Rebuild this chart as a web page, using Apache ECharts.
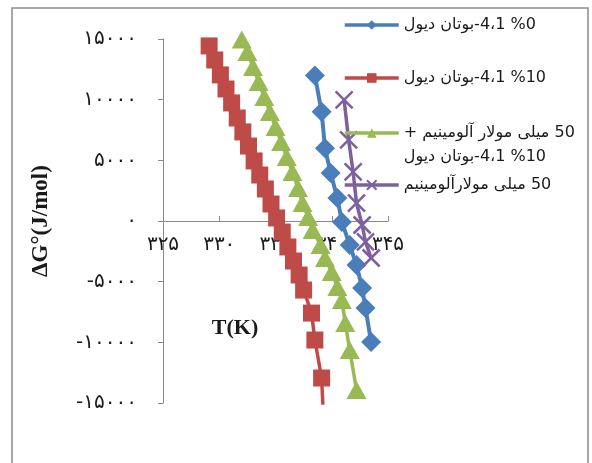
<!DOCTYPE html>
<html><head><meta charset="utf-8">
<script src="https://cdn.jsdelivr.net/npm/echarts@6/dist/echarts.min.js"></script>
<style>html,body{margin:0;padding:0;background:#fff}#c{width:592px;height:463px}</style>
</head><body><div id="c"></div>
<script>
const seriesNames = ['%0 4،1-بوتان دیول', '%10 4،1-بوتان دیول', '50 میلی مولار آلومینیم +\n%10 4،1-بوتان دیول', '50 میلی مولارآلومینیم'];
const blueT = [338.5, 339.1, 339.4, 339.9, 340.5, 340.9, 341.6, 342.2, 342.7, 343.0, 343.5];
const blueG = [12000, 9000, 6000, 3950, 1900, -80, -1980, -3630, -5520, -7170, -9980];
const redT = [329.1, 329.6, 330.1, 330.6, 331.1, 331.6, 332.1, 332.6, 333.1, 333.6, 334.1, 334.6, 335.1, 335.6, 336.1, 336.6, 337.1, 337.5, 338.2, 338.5, 339.1, 339.3];
const redG = [14430, 13270, 12040, 10880, 9730, 8490, 7340, 6180, 4950, 3790, 2640, 1400, 250, -910, -2140, -3300, -4450, -5690, -7590, -9810, -12940, -16900];
const greenT = [332.0, 332.5, 333.0, 333.5, 334.0, 334.5, 335.0, 335.5, 336.0, 336.5, 337.0, 337.4, 337.9, 338.3, 339.0, 339.4, 340.0, 340.5, 340.9, 341.2, 341.6, 342.2];
const greenG = [14950, 13930, 12700, 11460, 10220, 8990, 7750, 6510, 5280, 4040, 2720, 1480, 330, -740, -1980, -3050, -4200, -5440, -6510, -8410, -10640, -13930];
const purpleT = [341.1, 341.5, 341.9, 342.2, 342.7, 343.0, 343.5];
const purpleG = [9980, 6680, 4040, 1480, -330, -1730, -3050];
const xTickValues = [325, 330, 335, 340, 345];
const xTickLabels = ['۳۲۵', '۳۳۰', '۳۳۵', '۳۴۰', '۳۴۵'];
const yTickValues = [-15000, -10000, -5000, 0, 5000, 10000, 15000];
const yTickLabels = ['-۱۵۰۰۰', '-۱۰۰۰۰', '-۵۰۰۰', '۰', '۵۰۰۰', '۱۰۰۰۰', '۱۵۰۰۰'];

const pair = (t, g) => t.map((v, i) => [v, g[i]]);
const rtl = s => '\u202B' + s + '\u202C';
const colors = ['#4a7ebb', '#be4b48', '#98b954', '#7d60a0'];
const xPath = 'path://M0,0 L10,10 M10,0 L0,10';
const legendFont = { fontSize: 16, color: '#1a1a1a', fontFamily: 'DejaVu Sans' };

function legendAt(i, top, extra) {
  return Object.assign({
    data: [seriesNames[i]], left: 343, top: top, orient: 'vertical', padding: 0,
    itemWidth: 54, itemHeight: 12, itemGap: 0, selectedMode: false,
    lineStyle: { width: 3.5 },
    formatter: n => rtl(n),
    textStyle: legendFont
  }, extra || {});
}

const chart = echarts.init(document.getElementById('c'), null, { renderer: 'canvas' });
chart.setOption({
  backgroundColor: '#fff',
  animation: false,
  graphic: [{ type: 'rect', silent: true, z: -10, shape: { x: 12, y: 8, width: 576, height: 470 },
    style: { fill: 'none', stroke: '#8a8a8a', lineWidth: 1.5 } }],
  grid: { left: 163, top: 39, width: 225, height: 364, outerBoundsMode: 'none' },
  legend: [
    legendAt(0, 17),
    legendAt(1, 70),
    legendAt(2, 97, {
      formatter: n => '\n' + n.split('\n').map(rtl).join('\n'),
      textStyle: Object.assign({}, legendFont, { lineHeight: 24 })
    }),
    legendAt(3, 177)
  ],
  xAxis: {
    type: 'value', min: 325, max: 345, interval: 5, position: 'bottom', offset: -182,
    name: 'T(K)', nameLocation: 'middle', nameGap: 96,
    nameTextStyle: { fontFamily: 'Liberation Serif', fontWeight: 'bold', fontSize: 22, color: '#1a1a1a', padding: [0, 81, 0, 0] },
    axisLine: { onZero: false, lineStyle: { color: '#8a8a8a', width: 1 } },
    axisTick: { inside: true, length: 5, lineStyle: { color: '#8a8a8a' } },
    splitLine: { show: false },
    axisLabel: { margin: 14, fontSize: 20, color: '#1a1a1a', fontFamily: 'DejaVu Sans',
      formatter: v => { const i = xTickValues.indexOf(v); return i >= 0 ? xTickLabels[i] : ''; } }
  },
  yAxis: {
    type: 'value', min: -15000, max: 15000, interval: 5000,
    name: 'ΔG°(J/mol)', nameLocation: 'middle', nameGap: 110, nameRotate: 90,
    nameTextStyle: { fontFamily: 'Liberation Serif', fontWeight: 'bold', fontSize: 23, color: '#1a1a1a' },
    axisLine: { show: true, lineStyle: { color: '#8a8a8a', width: 1 } },
    axisTick: { show: true, length: 5, lineStyle: { color: '#8a8a8a' } },
    splitLine: { show: false },
    axisLabel: { margin: 26, fontSize: 20, color: '#1a1a1a', fontFamily: 'DejaVu Sans',
      formatter: v => { const i = yTickValues.indexOf(v); return i >= 0 ? yTickLabels[i] : ''; } }
  },
  series: [
    { name: seriesNames[0], type: 'line', data: pair(blueT, blueG), symbol: 'diamond', symbolSize: 20,
      itemStyle: { color: colors[0] }, lineStyle: { color: colors[0], width: 4 } },
    { name: seriesNames[1], type: 'line', data: pair(redT, redG), symbol: 'rect', symbolSize: 17,
      itemStyle: { color: colors[1] }, lineStyle: { color: colors[1], width: 3.5 } },
    { name: seriesNames[2], type: 'line', data: pair(greenT, greenG), symbol: 'triangle', symbolSize: [20, 18],
      clip: false, itemStyle: { color: colors[2] }, lineStyle: { color: colors[2], width: 3.5 } },
    { name: seriesNames[3], type: 'line', data: pair(purpleT, purpleG), symbol: xPath, symbolSize: 17,
      itemStyle: { color: 'none', borderColor: colors[3], borderWidth: 2.5 }, lineStyle: { color: colors[3], width: 3.5 } }
  ]
});
</script></body></html>
